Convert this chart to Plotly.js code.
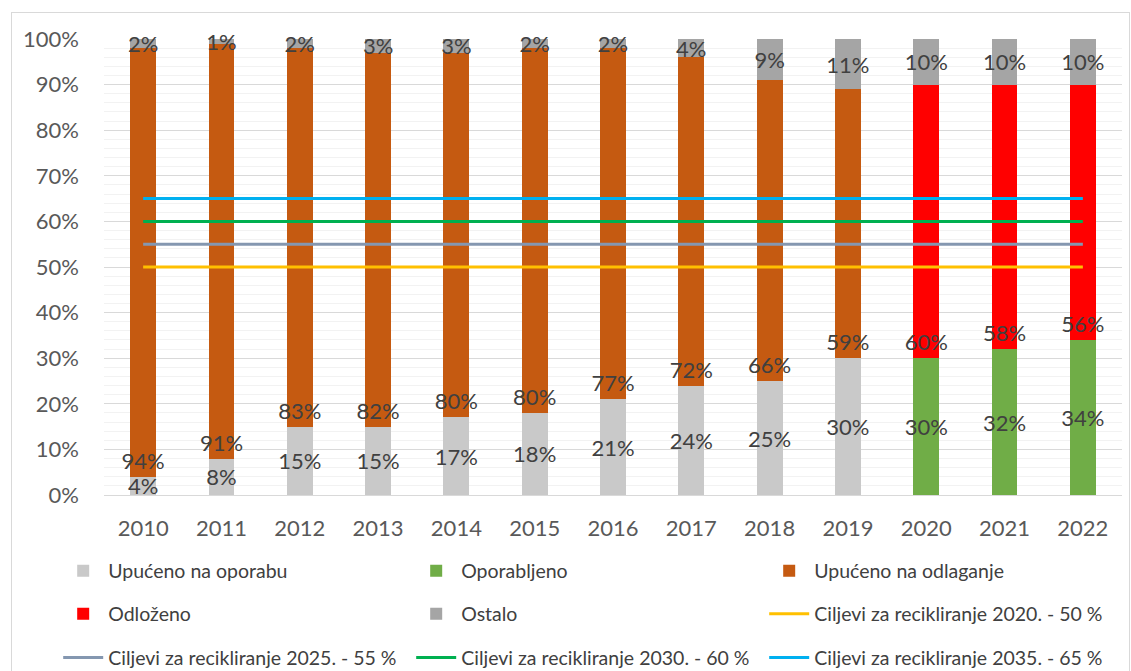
<!DOCTYPE html>
<html>
<head>
<meta charset="utf-8">
<script src="https://cdn.plot.ly/plotly-3.0.1.min.js"></script>
<style>
  html, body { margin: 0; padding: 0; background: #ffffff; overflow: hidden; }
  #chart { position: absolute; left: 11px; top: 12px; width: 1117px; height: 670px; border: 1px solid #d9d9d9; }
</style>
</head>
<body>
<div id="chart"></div>
<script>
// ---- data ----
const years = ['2010','2011','2012','2013','2014','2015','2016','2017','2018','2019','2020','2021','2022'];
const upucenoNaOporabu   = [4, 8, 15, 15, 17, 18, 21, 24, 25, 30, null, null, null];
const oporabljeno        = [null, null, null, null, null, null, null, null, null, null, 30, 32, 34];
const upucenoNaOdlaganje = [94, 91, 83, 82, 80, 80, 77, 72, 66, 59, null, null, null];
const odlozeno           = [null, null, null, null, null, null, null, null, null, null, 60, 58, 56];
const ostalo             = [2, 1, 2, 3, 3, 2, 2, 4, 9, 11, 10, 10, 10];
const cilj2020 = [50, 50, 50, 50, 50, 50, 50, 50, 50, 50, 50, 50, 50];
const cilj2025 = [55, 55, 55, 55, 55, 55, 55, 55, 55, 55, 55, 55, 55];
const cilj2030 = [60, 60, 60, 60, 60, 60, 60, 60, 60, 60, 60, 60, 60];
const cilj2035 = [65, 65, 65, 65, 65, 65, 65, 65, 65, 65, 65, 65, 65];
const yTicks = [0, 10, 20, 30, 40, 50, 60, 70, 80, 90, 100];
const yTickLabels = ['0%', '10%', '20%', '30%', '40%', '50%', '60%', '70%', '80%', '90%', '100%'];

// ---- style ----
const FONT = 'Lato, "Open Sans", sans-serif';
const TXT = '#404040';
const labelFont = { family: FONT, size: 22, color: TXT };

function pct(arr) { return arr.map(v => (v == null ? '' : v + '%')); }

function barTrace(name, y, color, anchor, legend) {
  return {
    type: 'bar', name: name, x: years, y: y,
    marker: { color: color, line: { width: 0 } },
    text: pct(y), textposition: 'inside', insidetextanchor: anchor,
    textangle: 0, constraintext: 'none', cliponaxis: false,
    insidetextfont: labelFont, outsidetextfont: labelFont, textfont: labelFont,
    hoverinfo: 'name+y', legend: legend
  };
}
function lineTrace(name, y, color, legend) {
  return {
    type: 'scatter', mode: 'lines', name: name, x: years, y: y,
    line: { color: color, width: 3 }, hoverinfo: 'name+y', legend: legend
  };
}

const traces = [
  barTrace('Upućeno na oporabu', upucenoNaOporabu, '#c9c9c9', 'middle', 'legend'),
  barTrace('Oporabljeno', oporabljeno, '#70ad47', 'middle', 'legend'),
  barTrace('Upućeno na odlaganje', upucenoNaOdlaganje, '#c55a11', 'start', 'legend'),
  barTrace('Odloženo', odlozeno, '#ff0000', 'start', 'legend2'),
  barTrace('Ostalo', ostalo, '#a5a5a5', 'middle', 'legend2'),
  lineTrace('Ciljevi za recikliranje 2020. - 50 %', cilj2020, '#ffc000', 'legend2'),
  lineTrace('Ciljevi za recikliranje 2025. - 55 %', cilj2025, '#8497b0', 'legend3'),
  lineTrace('Ciljevi za recikliranje 2030. - 60 %', cilj2030, '#00b050', 'legend3'),
  lineTrace('Ciljevi za recikliranje 2035. - 65 %', cilj2035, '#00b0f0', 'legend3')
];

function legendRow(y) {
  return {
    orientation: 'h', x: -0.045, xanchor: 'left', y: y, yanchor: 'middle',
    entrywidth: 298, entrywidthmode: 'pixels', itemwidth: 40,
    font: { family: FONT, size: 19.5, color: TXT },
    bgcolor: 'rgba(0,0,0,0)', borderwidth: 0, traceorder: 'normal'
  };
}

const layout = {
  width: 1117, height: 670,
  margin: { l: 92, r: 7, t: 26, b: 188, autoexpand: false },
  paper_bgcolor: '#ffffff', plot_bgcolor: '#ffffff',
  font: { family: FONT, color: TXT },
  barmode: 'stack', bargap: 0.67,
  showlegend: true,
  xaxis: {
    type: 'category', showgrid: false, showline: true, linecolor: '#d9d9d9', linewidth: 1,
    ticks: '', tickfont: { family: FONT, size: 22, color: '#595959' }, ticklabelstandoff: 14,
    fixedrange: true
  },
  yaxis: {
    range: [0, 100], tickvals: yTicks, ticktext: yTickLabels,
    showgrid: true, gridcolor: '#d9d9d9', gridwidth: 1,
    minor: { dtick: 2, tick0: 0, showgrid: true, gridcolor: '#f2f2f2', gridwidth: 1 },
    zeroline: false, showline: false, ticks: '',
    tickfont: { family: FONT, size: 22, color: '#595959' }, ticklabelstandoff: 24,
    fixedrange: true
  },
  legend: legendRow(-0.1667),
  legend2: legendRow(-0.261),
  legend3: legendRow(-0.357)
};

Plotly.newPlot('chart', traces, layout, { displayModeBar: false, staticPlot: true });
</script>
</body>
</html>
